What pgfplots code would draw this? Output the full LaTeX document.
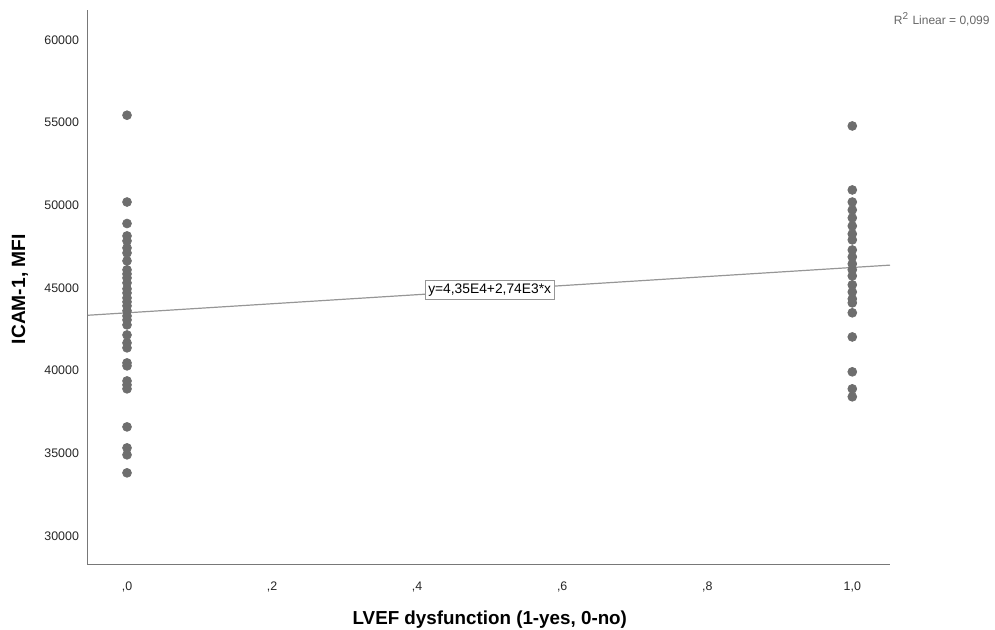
\documentclass[border=0pt]{standalone}
\usepackage{pgfplots}
\pgfplotsset{compat=1.18}
\usepackage{fontspec}
\setmainfont{Liberation Sans}
\definecolor{ptc}{RGB}{110,110,110}
\definecolor{axc}{RGB}{120,120,120}
\definecolor{lnc}{RGB}{150,150,150}
\begin{document}
\begin{tikzpicture}
\path[use as bounding box] (-44pt,-32.5pt) rectangle (453.5pt,282.5pt);
\begin{axis}[
  at={(0,0)}, anchor=south west,
  scale only axis, width=401pt, height=277.5pt,
  xmin=-0.0538, xmax=1.052, ymin=28247, ymax=61814,
  axis x line*=bottom, axis y line*=left,
  axis line style={axc, line width=0.5pt},
  major tick length=0pt,
  xtick={0,0.2,0.4,0.6,0.8,1.0},
  xticklabels={{,0},{,2},{,4},{,6},{,8},{1,0}},
  ytick={30000,35000,40000,45000,50000,55000,60000},
  yticklabels={30000,35000,40000,45000,50000,55000,60000},
  tick label style={font=\fontsize{6.2}{7.5}\selectfont, text=black!85},
  xticklabel style={yshift=-5pt},
  yticklabel style={xshift=-1pt},
  xlabel={LVEF dysfunction (1-yes, 0-no)},
  ylabel={ICAM-1, MFI},
  every axis x label/.style={at={(axis description cs:0.501,-0.0991)}, anchor=center, font=\bfseries\fontsize{9.4}{11}\selectfont},
  every axis y label/.style={at={(axis description cs:-0.0848,0.497)}, rotate=90, anchor=center, font=\bfseries\fontsize{9.6}{11}\selectfont},
  clip=false,
]
\addplot[only marks, mark=*, mark size=2.2pt, mark options={fill=ptc, draw=ptc}] coordinates {
(0,55450) (0,50200) (0,48900) (0,48150) (0,47850) (0,47425) (0,47120) (0,46640)
(0,46100) (0,45850) (0,45610) (0,45310) (0,44950) (0,44700) (0,44400) (0,44160)
(0,43920) (0,43620) (0,43310) (0,43070) (0,42770) (0,42160) (0,41680) (0,41380)
(0,40470) (0,40290) (0,39380) (0,39140) (0,38900) (0,36600) (0,35330) (0,34910)
(0,33820)
(1,54800) (1,50930) (1,50200) (1,49720) (1,49240) (1,48750) (1,48270) (1,47910)
(1,47300) (1,46880) (1,46460) (1,46100) (1,45730) (1,45190) (1,44760) (1,44340)
(1,44100) (1,43500) (1,42040) (1,39930) (1,38900) (1,38420)
};
\addplot[lnc, line width=0.6pt] coordinates {(-0.0538,43352) (1.052,46383)};
\node[draw=lnc, fill=white, inner sep=1.5pt, line width=0.5pt, font=\fontsize{6.9}{8}\selectfont] at (axis cs:0.5,44870) {y=4,35E4+2,74E3*x};
\end{axis}
\node[anchor=east, inner sep=0pt, font=\fontsize{6}{7}\selectfont, text=black!60] at (451pt,273pt) {R\textsuperscript{2} Linear = 0,099};
\end{tikzpicture}
\end{document}
